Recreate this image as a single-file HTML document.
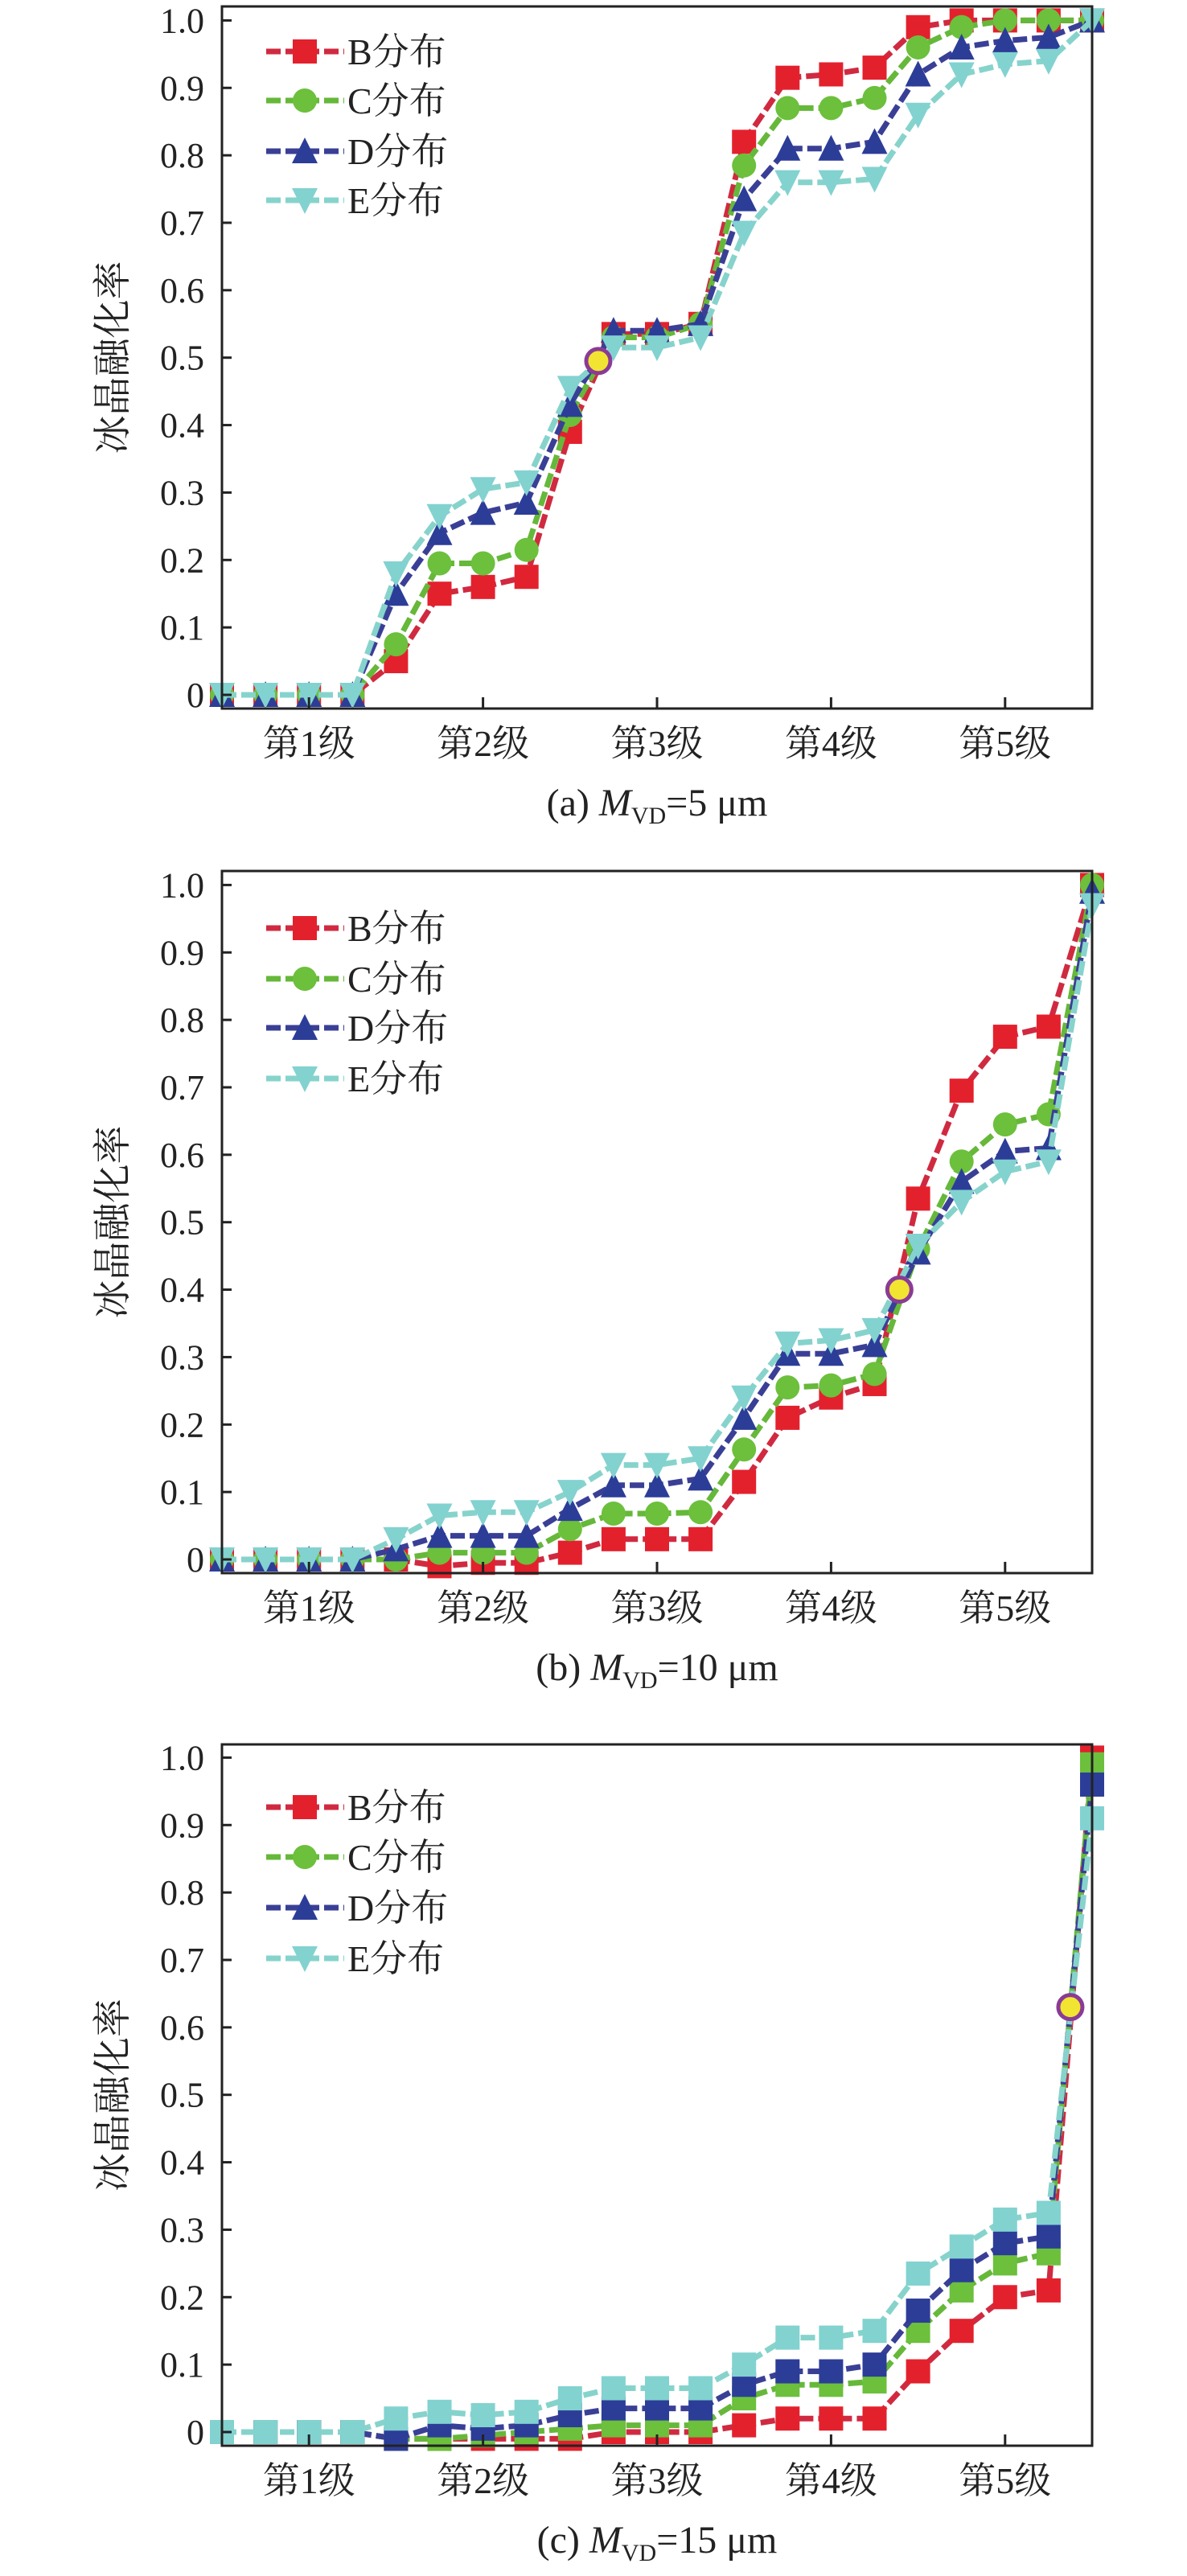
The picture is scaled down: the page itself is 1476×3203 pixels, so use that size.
<!DOCTYPE html>
<html><head><meta charset="utf-8">
<style>
html,body{margin:0;padding:0;background:#fff;}
svg{display:block;}
text{font-family:"Liberation Serif","Noto Serif CJK SC","Noto Sans CJK SC",serif;fill:#222;}
</style></head>
<body>
<svg id="s" width="1476" height="3203" viewBox="0 0 1476 3203" xmlns="http://www.w3.org/2000/svg"></svg>
<script>
const S=document.getElementById('s');
let h='';
const L=276,R=1358,U=838.6;
const cols={B:'#e3212d',C:'#6cc03c',D:'#2c3d98',E:'#82d2d0'};
const lcols={B:'#d02a40',C:'#66b83a',D:'#3a3f96',E:'#86d3cc'};
const X=i=>L+i*(R-L)/20;
function marker(t,x,y,c,sq){
  const s=15;
  if(sq||t==='B') return `<rect x="${x-s}" y="${y-s}" width="${2*s}" height="${2*s}" fill="${c}"/>`;
  if(t==='C') return `<circle cx="${x}" cy="${y}" r="${s}" fill="${c}"/>`;
  if(t==='D') return `<polygon points="${x},${y-s-2} ${x+s+1},${y+s} ${x-s-1},${y+s}" fill="${c}"/>`;
  return `<polygon points="${x},${y+s+2} ${x+s+1},${y-s} ${x-s-1},${y-s}" fill="${c}"/>`;
}
function panel(top,bot,y0,data,yel,cap,sq,leg){
  const Y=v=>y0-v*U;
  for(const k of ['B','C','D','E']){
    const d=data[k];
    let p=d.map((v,i)=>X(i).toFixed(1)+','+Y(v).toFixed(1)).join(' ');
    h+=`<polyline points="${p}" fill="none" stroke="${lcols[k]}" stroke-width="7" stroke-dasharray="18 6"/>`;
    d.forEach((v,i)=>{h+=marker(k,X(i),Y(v),cols[k],sq);});
  }
  h+=`<circle cx="${X(yel[0])}" cy="${Y(yel[1])}" r="15" fill="#f1e531" stroke="#8a3b96" stroke-width="5"/>`;
  // frame
  h+=`<rect x="${L}" y="${top}" width="${R-L}" height="${bot-top}" fill="none" stroke="#222" stroke-width="3"/>`;
  for(let v=0;v<=10;v++){
    const y=Y(v/10);
    h+=`<line x1="${L}" y1="${y}" x2="${L+12}" y2="${y}" stroke="#222" stroke-width="3"/>`;
    h+=`<text x="254" y="${y+15}" font-size="44" text-anchor="end">${v===0?'0':(v/10).toFixed(1)}</text>`;
  }
  for(let j=0;j<5;j++){
    const x=X(2+4*j);
    h+=`<line x1="${x}" y1="${bot}" x2="${x}" y2="${bot-14}" stroke="#222" stroke-width="3"/>`;
    h+=`<text x="${x}" y="${bot+59}" font-size="46" text-anchor="middle">第${j+1}级</text>`;
  }
  h+=`<text transform="translate(156,${(top+bot)/2}) rotate(-90)" font-size="48" text-anchor="middle">冰晶融化率</text>`;
  h+=`<text x="817" y="${bot+133}" font-size="48" text-anchor="middle">${cap[0]}<tspan font-style="italic">M</tspan><tspan font-size="30" dy="10">VD</tspan><tspan dy="-10">=${cap[1]} μm</tspan></text>`;
  ['B','C','D','E'].forEach((k,i)=>{
    const y=leg[i];
    h+=`<line x1="331" y1="${y}" x2="428" y2="${y}" stroke="${lcols[k]}" stroke-width="7" stroke-dasharray="18 6"/>`;
    h+=marker(k,379,y,cols[k],false);
    h+=`<text x="432" y="${y+16}" font-size="46">${k}分布</text>`;
  });
}
panel(8,881,864,{
B:[0,0,0,0,0.05,0.15,0.16,0.175,0.39,0.535,0.535,0.55,0.82,0.915,0.92,0.93,0.99,1.0,1.0,1.0,1.0],
C:[0,0,0,0,0.075,0.195,0.195,0.215,0.415,0.53,0.53,0.55,0.785,0.87,0.87,0.885,0.96,0.99,1.0,1.0,1.0],
D:[0,0,0,0,0.15,0.24,0.27,0.285,0.43,0.54,0.54,0.55,0.735,0.81,0.81,0.82,0.92,0.96,0.97,0.975,1.0],
E:[0,0,0,0,0.18,0.265,0.305,0.315,0.455,0.515,0.515,0.53,0.685,0.76,0.76,0.765,0.86,0.92,0.935,0.94,1.0]},
[8.65,0.495],['(a) ','5'],false,[64,125,188,249]);
panel(1083,1956,1939,{
B:[0,0,0,0,0,-0.01,-0.005,-0.005,0.01,0.03,0.03,0.03,0.115,0.21,0.24,0.26,0.535,0.695,0.775,0.79,1.0],
C:[0,0,0,0,0,0.01,0.01,0.01,0.045,0.068,0.068,0.07,0.163,0.255,0.258,0.275,0.46,0.59,0.645,0.66,1.0],
D:[0,0,0,0,0.015,0.035,0.035,0.035,0.075,0.11,0.11,0.12,0.21,0.305,0.305,0.318,0.455,0.56,0.605,0.61,0.99],
E:[0,0,0,0,0.03,0.065,0.07,0.07,0.1,0.14,0.14,0.15,0.24,0.32,0.325,0.34,0.465,0.53,0.575,0.59,0.97]},
[15.57,0.4],['(b) ','10'],false,[1154,1217,1278,1341]);
panel(2169,3041,3024,{
B:[0,0,0,0,-0.01,-0.01,-0.01,-0.01,-0.01,0,0,0,0.01,0.02,0.02,0.02,0.09,0.15,0.2,0.21,1.0],
C:[0,0,0,0,-0.01,-0.01,-0.005,0,0.005,0.01,0.01,0.01,0.05,0.07,0.07,0.075,0.15,0.21,0.25,0.265,0.99],
D:[0,0,0,0,-0.01,0.01,0.005,0.01,0.025,0.035,0.035,0.035,0.07,0.09,0.09,0.1,0.18,0.24,0.28,0.29,0.96],
E:[0,0,0,0,0.02,0.03,0.025,0.03,0.05,0.065,0.065,0.065,0.1,0.14,0.14,0.15,0.235,0.275,0.315,0.325,0.91]},
[19.5,0.63],['(c) ','15'],true,[2247,2309,2372,2435]);
S.innerHTML=h;
</script>
</body></html>
